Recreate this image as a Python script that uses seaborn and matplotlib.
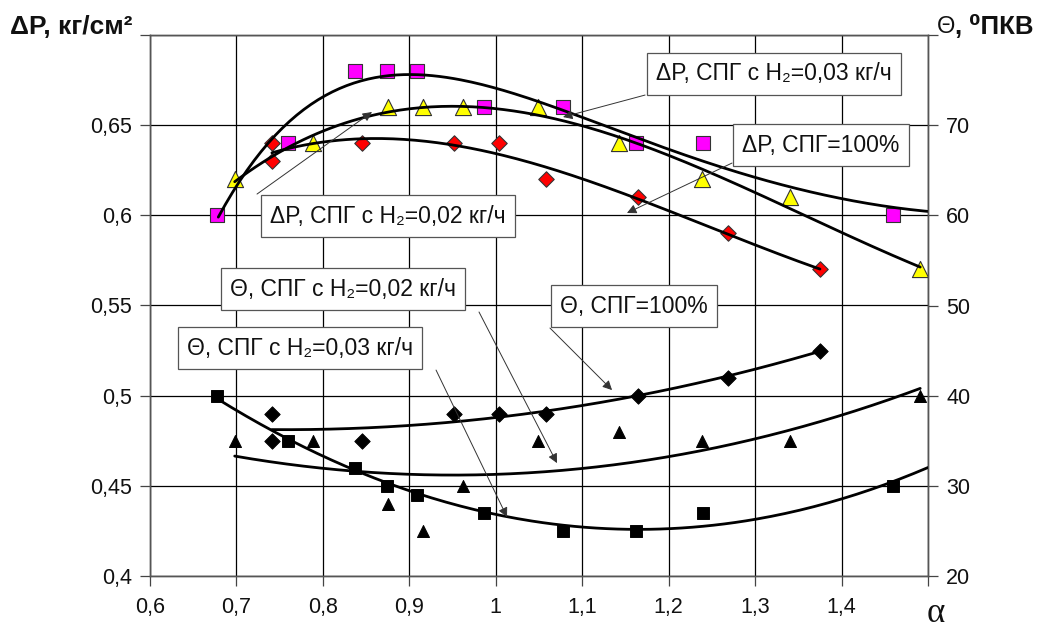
import numpy as np
import pandas as pd
import matplotlib
matplotlib.use("Agg")
import matplotlib.pyplot as plt
import seaborn as sns

# ---------------- data ----------------
alpha_h03 = [0.678, 0.760, 0.837, 0.874, 0.909, 0.986, 1.078, 1.162, 1.240, 1.460]
alpha_h02 = [0.698, 0.788, 0.875, 0.916, 0.962, 1.049, 1.142, 1.239, 1.340, 1.491]
alpha_100 = [0.741, 0.741, 0.845, 0.952, 1.004, 1.058, 1.164, 1.269, 1.375]

dp_h03 = [0.60, 0.64, 0.68, 0.68, 0.68, 0.66, 0.66, 0.64, 0.64, 0.60]
dp_h02 = [0.62, 0.64, 0.66, 0.66, 0.66, 0.66, 0.64, 0.62, 0.61, 0.57]
dp_100 = [0.64, 0.63, 0.64, 0.64, 0.64, 0.62, 0.61, 0.59, 0.57]

th_h03 = [40, 35, 32, 30, 29, 27, 25, 25, 27, 30]
th_h02 = [35, 35, 28, 25, 30, 35, 36, 35, 35, 40]
th_100 = [38, 35, 35, 38, 38, 38, 40, 42, 45]

# trend curve of dP (H2 = 0.03 kg/h)
trend_h03_alpha = [0.681, 0.701, 0.727, 0.762, 0.808, 0.866, 0.904, 0.935, 0.985,
                   1.063, 1.161, 1.240, 1.300, 1.400, 1.448, 1.500]
trend_h03_dp = [0.599, 0.618, 0.636, 0.653, 0.667, 0.6756, 0.6773, 0.6767, 0.6734,
                0.6623, 0.6434, 0.6285, 0.621, 0.610, 0.6055, 0.6018]

x_ticks = [0.6, 0.7, 0.8, 0.9, 1.0, 1.1, 1.2, 1.3, 1.4]
dp_ticks = [0.4, 0.45, 0.5, 0.55, 0.6, 0.65]
th_ticks = [20, 30, 40, 50, 60, 70]

label_dp_h03 = "ΔP, СПГ с H₂=0,03 кг/ч"
label_dp_100 = "ΔP, СПГ=100%"
label_dp_h02 = "ΔP, СПГ с H₂=0,02 кг/ч"
label_th_h02 = "Θ, СПГ с H₂=0,02 кг/ч"
label_th_h03 = "Θ, СПГ с H₂=0,03 кг/ч"
label_th_100 = "Θ, СПГ=100%"

# ---------------- style ----------------
sns.set_theme(style="white")
plt.rcParams["font.family"] = ["Liberation Sans", "DejaVu Sans"]

fig = plt.figure(figsize=(10.41, 6.33), dpi=100)
ax = fig.add_axes([150 / 1041, 57 / 633, 778 / 1041, 541 / 633])
ax2 = ax.twinx()


def trend(xs, ys, deg, x0, x1):
    c = np.polyfit(xs, ys, deg)
    xx = np.linspace(x0, x1, 200)
    return pd.DataFrame({"x": xx, "y": np.polyval(c, xx)})


line_kw = dict(color="black", linewidth=2.0, zorder=4)

# Delta P (left axis)
for xs, ys, deg, x0, x1 in [(trend_h03_alpha, trend_h03_dp, 5, 0.679, 1.5),
                            (alpha_h02, dp_h02, 3, 0.698, 1.491),
                            (alpha_100, dp_100, 3, 0.741, 1.375)]:
    d = trend(xs, ys, deg, x0, x1)
    sns.lineplot(data=d, x="x", y="y", ax=ax, **line_kw)

sns.scatterplot(x=alpha_h03, y=dp_h03, ax=ax, marker="s", s=115, color="#FF00FF",
                edgecolor="#333333", linewidth=0.8, zorder=3)
sns.scatterplot(x=alpha_h02, y=dp_h02, ax=ax, marker="^", s=135, color="#FFFF00",
                edgecolor="#333333", linewidth=0.8, zorder=3)
sns.scatterplot(x=alpha_100, y=dp_100, ax=ax, marker="D", s=62, color="#FF0000",
                edgecolor="#333333", linewidth=0.8, zorder=3)

# Theta (right axis)
for xs, ys, deg, x0, x1 in [(alpha_h03, th_h03, 2, 0.678, 1.5),
                            (alpha_h02, th_h02, 2, 0.698, 1.491),
                            (alpha_100, th_100, 2, 0.741, 1.375)]:
    d = trend(xs, ys, deg, x0, x1)
    sns.lineplot(data=d, x="x", y="y", ax=ax2, **line_kw)

sns.scatterplot(x=alpha_h03, y=th_h03, ax=ax2, marker="s", s=70, color="black",
                edgecolor="black", zorder=3)
sns.scatterplot(x=alpha_h02, y=th_h02, ax=ax2, marker="^", s=75, color="black",
                edgecolor="black", zorder=3)
sns.scatterplot(x=alpha_100, y=th_100, ax=ax2, marker="D", s=62, color="black",
                edgecolor="black", zorder=3)

# ---------------- axes ----------------
ax.set_xlim(0.6, 1.5)
ax.set_ylim(0.4, 0.7)
ax2.set_ylim(20, 80)
ax.set_xticks(x_ticks + [1.5])
ax.set_yticks(dp_ticks + [0.7])
ax2.set_yticks(th_ticks + [80])


def comma(v):
    return f"{v:g}".replace(".", ",")


ax.set_xticklabels([comma(v) for v in x_ticks] + [""])
ax.set_yticklabels([comma(v) for v in dp_ticks] + [""])
ax2.set_yticklabels([str(v) for v in th_ticks] + [""])
ax.set_xlabel("")
ax.set_ylabel("")
ax2.set_ylabel("")

ax.grid(True, color="black", linewidth=0.9)
for a in (ax, ax2):
    a.tick_params(direction="out", length=7, width=0.9, color="#444444",
                  labelsize=15.5, labelcolor="#111111", pad=6)
    for s in a.spines.values():
        s.set_color("#555555")
        s.set_linewidth(1.0)
ax.tick_params(axis="x", bottom=True, pad=8)
ax.tick_params(axis="y", left=True)
ax2.tick_params(axis="y", right=True)

# ---------------- annotations ----------------
box = dict(boxstyle="square,pad=0.4", facecolor="white", edgecolor="#555555", linewidth=0.9)
arrow = dict(arrowstyle="-|>", color="#333333", lw=0.7, mutation_scale=14, shrinkA=0, shrinkB=0)
ann_fs = 16.5

notes = [
    (label_dp_h03, (1.322, 0.6784), (1.1727, 0.6667), (1.0778, 0.6545)),
    (label_dp_100, (1.3763, 0.6390), (1.2733, 0.6290), (1.1518, 0.6013)),
    (label_dp_h02, (0.8753, 0.5996), (0.7238, 0.6118), (0.8568, 0.6573)),
    (label_th_h02, (0.8233, 0.5591), (0.9806, 0.5464), (1.0708, 0.4626)),
    (label_th_h03, (0.7735, 0.5264), (0.9309, 0.5142), (1.0130, 0.4327)),
    (label_th_100, (1.1599, 0.5497), (1.0627, 0.5375), (1.1345, 0.5031)),
]
for text, center, start, end in notes:
    ax2.annotate("", xy=end, xytext=start, xycoords=ax.transData,
                 textcoords=ax.transData, arrowprops=arrow, zorder=6)
    ax2.text(center[0], center[1], text, transform=ax.transData, ha="center",
             va="center", fontsize=ann_fs, color="#111111", bbox=box, zorder=7)

# ---------------- axis titles ----------------
fig.text(10 / 1041, 1 - 27 / 633, "ΔP, кг/см²", fontsize=19, fontweight="bold",
         ha="left", va="center", color="#111111")
fig.text(937 / 1041, 1 - 27 / 633, "Θ", fontsize=17, ha="left", va="center",
         color="#111111")
fig.text(955 / 1041, 1 - 27 / 633, ", ⁰ПКВ", fontsize=18.5, fontweight="bold",
         ha="left", va="center", color="#111111")
fig.text(936 / 1041, 1 - 613 / 633, "α", fontsize=25, ha="center", va="center",
         family=["Liberation Serif", "DejaVu Serif"], color="#111111")

fig.savefig("out.png", dpi=100)
